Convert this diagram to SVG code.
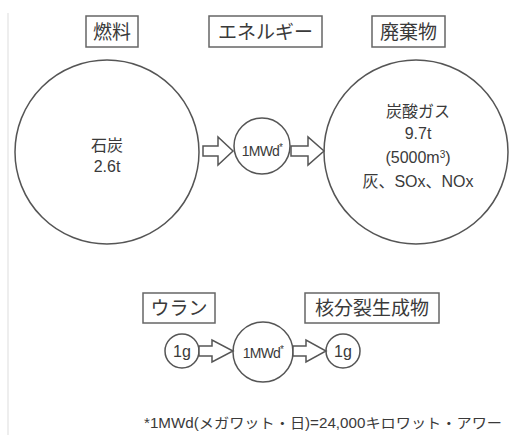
<svg xmlns="http://www.w3.org/2000/svg" width="511" height="435" viewBox="0 0 511 435">
<style>
.ln{fill:none;stroke:#555;stroke-width:1.5}
.ar{fill:#fff;stroke:#555;stroke-width:1.5;stroke-linejoin:miter}
.bx{fill:#fff;stroke:#666;stroke-width:1.5}
.t{font-family:"Liberation Sans","Noto Sans CJK JP",sans-serif;fill:#3a3a3a;text-anchor:middle}
.h{font-size:19px}
.m{font-size:16px}
.s{font-size:14px}
</style>
<rect width="511" height="435" fill="#fff"/>
<line x1="8" y1="13" x2="8" y2="435" stroke="#ddd" stroke-width="1"/>
<g id="label-fuel"><rect class="bx" x="86" y="16" width="52" height="31"/><text class="t h" x="112" y="39">燃料</text></g>
<g id="label-energy"><rect class="bx" x="209" y="16" width="113" height="31"/><text class="t h" x="265.5" y="39">エネルギー</text></g>
<g id="label-waste"><rect class="bx" x="372" y="16" width="73" height="31"/><text class="t h" x="408.5" y="39">廃棄物</text></g>
<g id="coal"><circle class="ln" cx="107" cy="152" r="92"/><text class="t m" x="107" y="151">石炭</text><text class="t m" x="107" y="172">2.6t</text></g>
<g id="energy-coal"><circle class="ln" cx="262" cy="146" r="28"/><text class="t s" x="262" y="156" letter-spacing="-0.8">1MWd<tspan font-size="10" dy="-5">*</tspan></text></g>
<g id="waste-coal"><circle class="ln" cx="416" cy="152" r="92"/><text class="t m" x="418" y="117">炭酸ガス</text><text class="t m" x="418" y="139">9.7t</text><text class="t m" x="418" y="163">(5000m<tspan font-size="10" dy="-5">3</tspan><tspan dy="5">)</tspan></text><text class="t m" x="418" y="187">灰、SOx、NOx</text></g>
<g id="label-uranium"><rect class="bx" x="143" y="293" width="72" height="30"/><text class="t h" x="179" y="315">ウラン</text></g>
<g id="label-fission"><rect class="bx" x="305" y="293" width="134" height="30"/><text class="t h" x="372" y="315">核分裂生成物</text></g>
<g id="uranium"><circle class="ln" cx="182" cy="351" r="17"/><text class="t m" x="182" y="357">1g</text></g>
<g id="energy-uranium"><circle class="ln" cx="263" cy="352" r="30"/><text class="t s" x="263" y="358" letter-spacing="-0.8">1MWd<tspan font-size="10" dy="-5">*</tspan></text></g>
<g id="fission"><circle class="ln" cx="343" cy="351" r="17"/><text class="t m" x="343" y="357">1g</text></g>
<g id="connectors">
<path class="ar" d="M203,146 H218 V137 L233,151 L218,165 V156 H203 Z"/>
<path class="ar" d="M291,146 H308 V137 L324,151 L308,165 V156 H291 Z"/>
<path class="ar" d="M199,346 H212 V340 L233,351 L212,362 V356 H199 Z"/>
<path class="ar" d="M293,346 H306 V340 L326,351 L306,362 V356 H293 Z"/>
</g>
<text class="t s" x="323" y="428" font-size="13" textLength="358" lengthAdjust="spacingAndGlyphs">*1MWd(メガワット・日)=24,000キロワット・アワー</text>
</svg>
